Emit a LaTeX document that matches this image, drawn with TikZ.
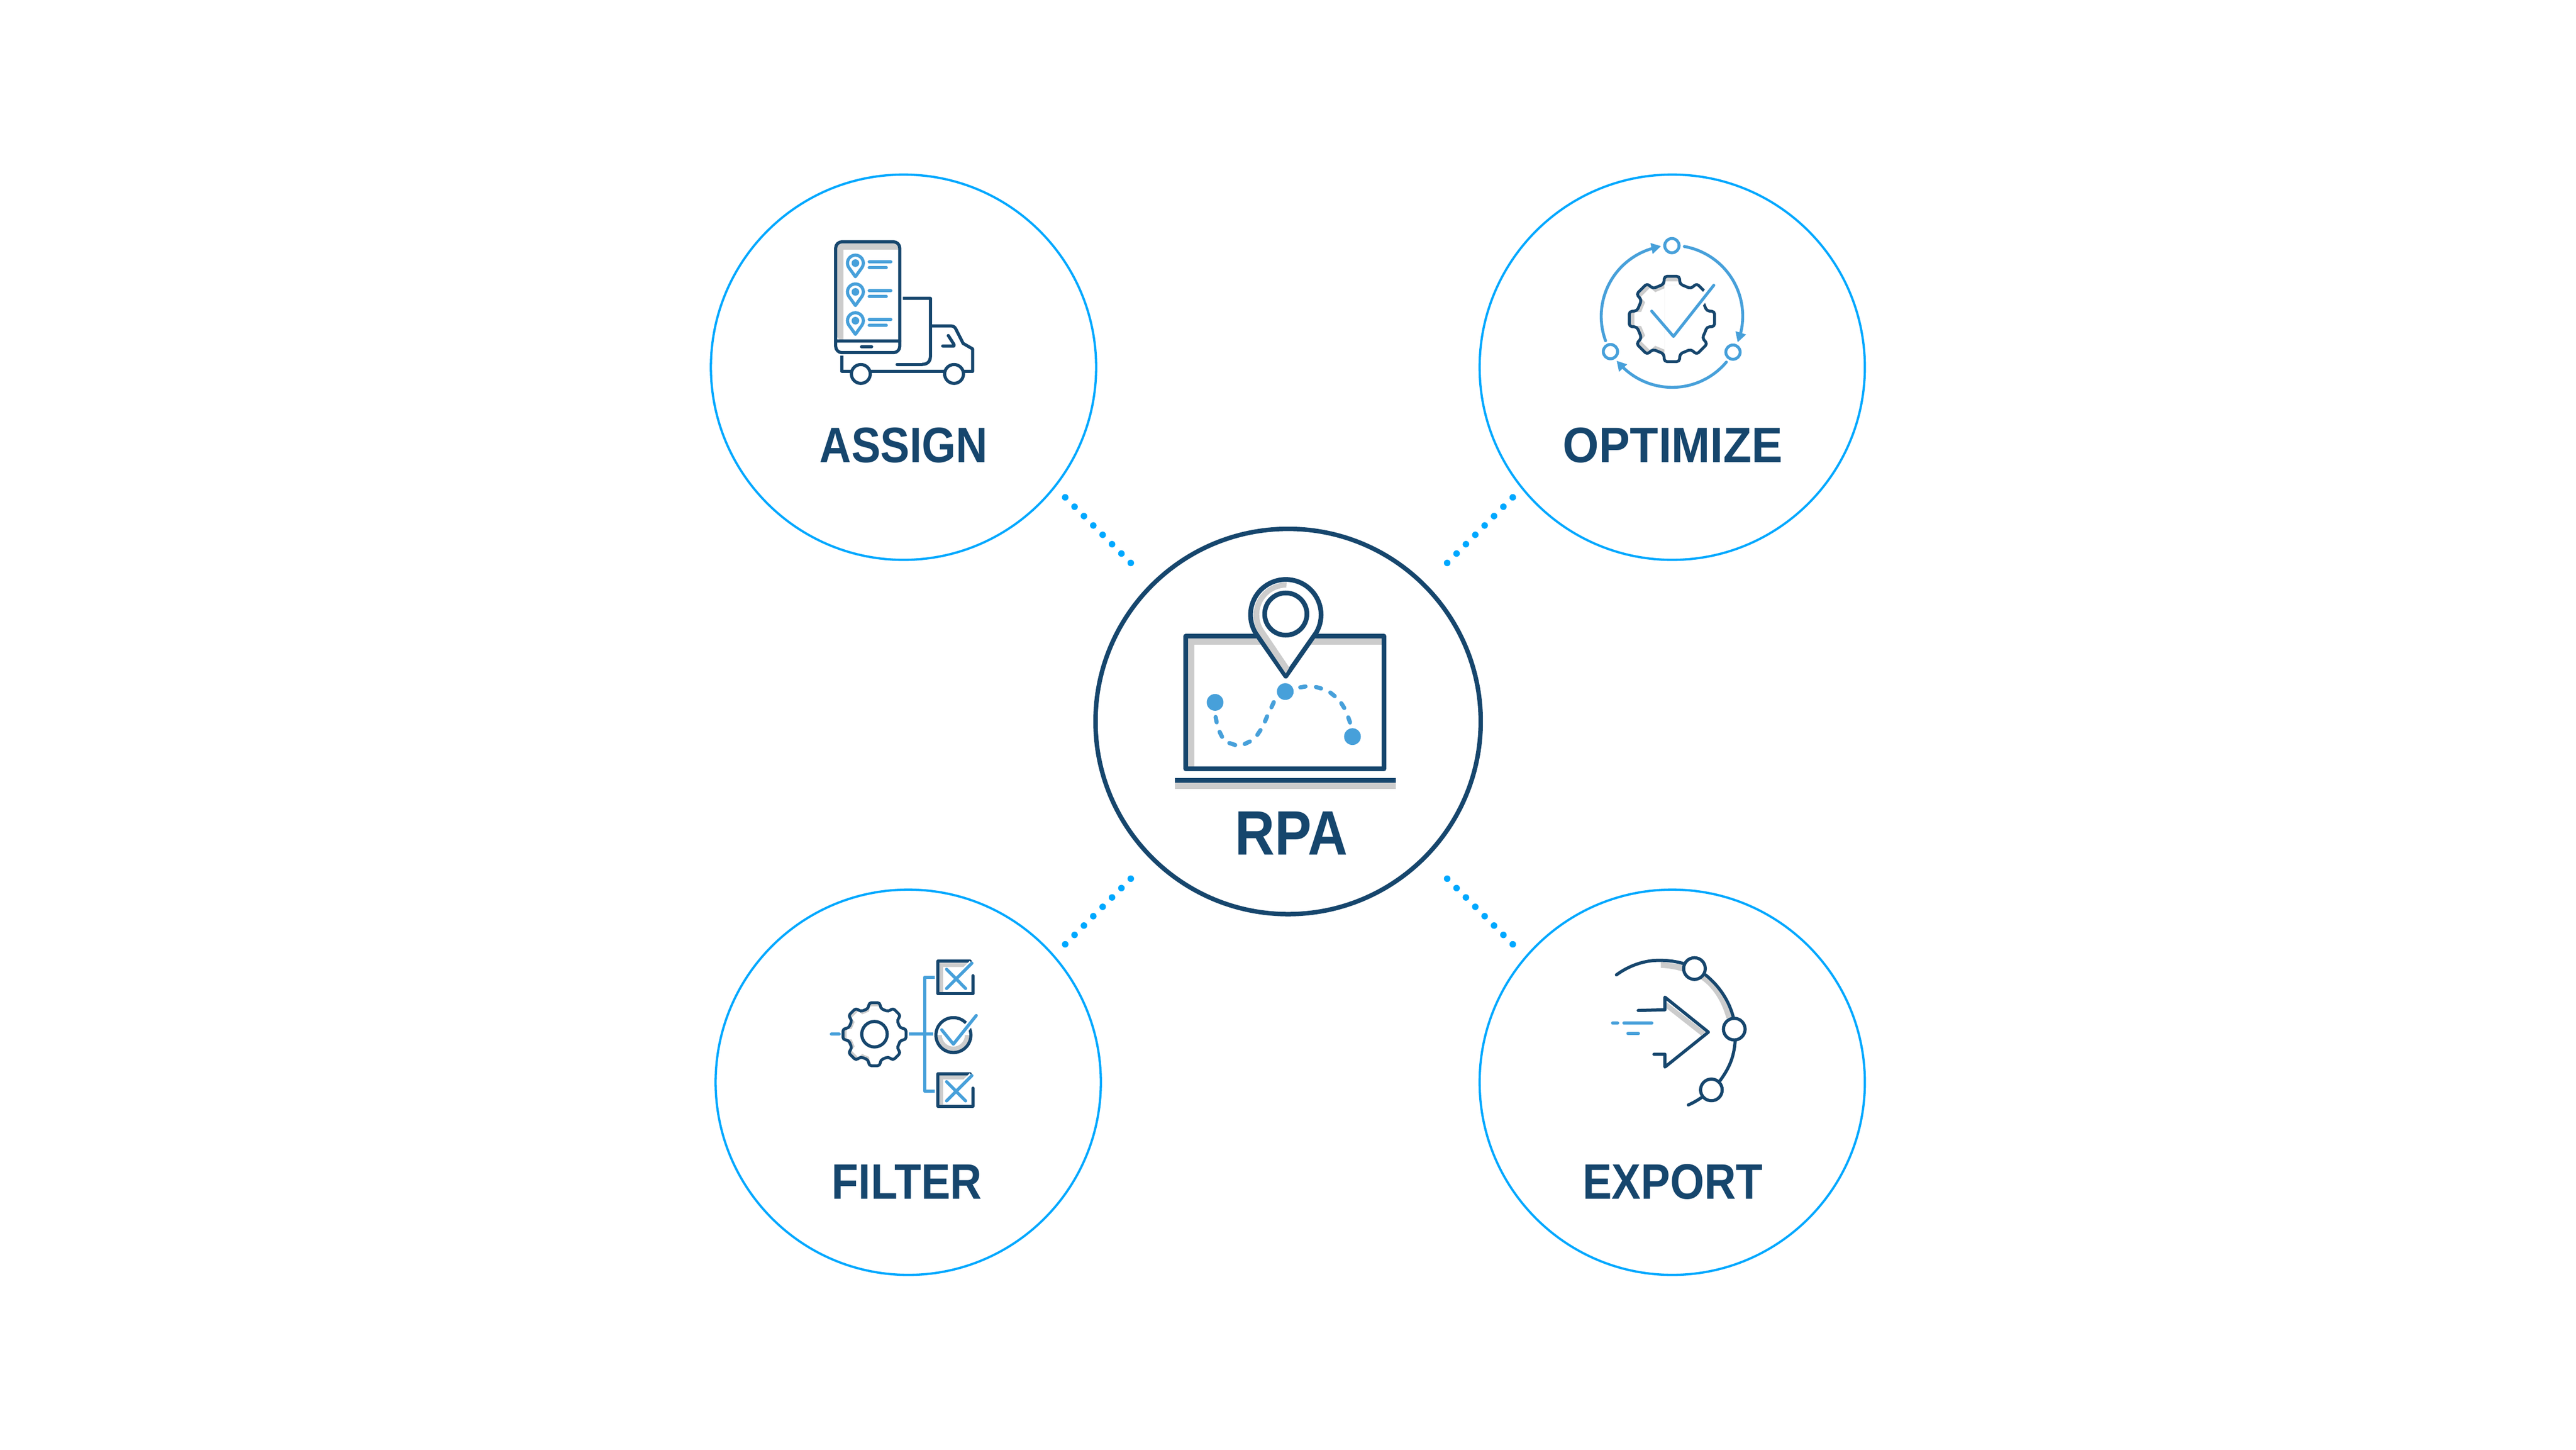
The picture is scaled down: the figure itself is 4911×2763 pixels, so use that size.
\documentclass[tikz,border=0pt]{standalone}
\usepackage{fontspec}
\setmainfont[FakeStretch=0.88]{Liberation Sans}
\definecolor{ringblue}{HTML}{00A8FF}
\definecolor{navy}{HTML}{16466D}
\definecolor{iconblue}{HTML}{47A0DA}
\definecolor{softgrey}{HTML}{CCCCCC}
\newcommand{\gearpath}{(22.5:205) \foreach \a in {45,90,...,360} {-- (\a-13:205) -- (\a-10:248) -- (\a+10:248) -- (\a+13:205)} -- cycle}
\begin{document}
\begin{tikzpicture}
    \tikzset{x=0.01cm, y=-0.01cm}
    \tikzstyle{ring}=[circle, draw=ringblue, line width=0.043cm, minimum size=7.34cm, inner sep=0pt]
    \tikzstyle{hub}=[circle, draw=navy, line width=0.085cm, minimum size=7.34cm, inner sep=0pt]
    \tikzstyle{caption}=[text=navy, font=\bfseries\fontsize{27}{27}\selectfont]
    \tikzstyle{dotline}=[draw=ringblue, line width=0.125cm, line cap=round, dash pattern=on 0cm off 0.2525cm]
    \tikzstyle{icon}=[x=0.003333cm, y=-0.003333cm]
    \tikzstyle{dark}=[draw=navy, line width=0.06cm, line cap=round, line join=round]
    \tikzstyle{light}=[draw=iconblue, line width=0.06cm, line cap=round, line join=round]

    \path[use as bounding box, fill=white] (0,0) rectangle (4911,2763);

    \draw (1722.5,700)  node[ring]      (assign)    {};
    \draw (3188,700)    node[ring]      (optimize)  {};
    \draw (1731.5,2063) node[ring]      (filter)    {};
    \draw (3188,2063)   node[ring]      (export)    {};
    \draw (2455.7,1375.3) node[hub]     (rpa)       {};

    \draw (1723,849)    node[caption]   (assignl)   {ASSIGN};
    \draw (3189,849)    node[caption, xscale=1.06] (optimizel) {OPTIMIZE};
    \draw (1729,2253)   node[caption]   (filterl)   {FILTER};
    \draw (3189,2253)   node[caption]   (exportl)   {EXPORT};
    \draw (2462,1588)   node[caption, font=\bfseries\fontsize{34}{34}\selectfont] (rpal) {RPA};

    \coordinate (d1a) at (2030.7,948);
    \coordinate (d1b) at (2158,1075.3);
    \coordinate (d2a) at (2884,948);
    \coordinate (d2b) at (2756.7,1075.3);
    \coordinate (d3a) at (2030.7,1800);
    \coordinate (d3b) at (2158,1672.7);
    \coordinate (d4a) at (2884,1800);
    \coordinate (d4b) at (2756.7,1672.7);
    \draw[dotline] (d1a) -- (d1b);
    \draw[dotline] (d2a) -- (d2b);
    \draw[dotline] (d3a) -- (d3b);
    \draw[dotline] (d4a) -- (d4b);

    \begin{scope}[shift={(2200,1060)}, icon]
        \fill[softgrey] (190,465) rectangle (1310,1210);
        \fill[white] (232,507) rectangle (1310,1210);
        \draw[dark, line width=0.09cm] (183,459) rectangle (1317,1218);
        \fill[softgrey] (121,1290) rectangle (1385,1335);
        \fill[navy] (121,1270) rectangle (1385,1298);
        \draw[dark, line width=0.09cm, fill=white] (755,688) -- (582,440) arc[start angle=149, end angle=390.7, radius=202] -- cycle;
        \fill[softgrey] (760,150) arc[start angle=270, end angle=149, radius=190] -- (755,672) -- (775,638) -- (628,420) arc[start angle=147, end angle=270, radius=155] -- cycle;
        \draw[dark, line width=0.09cm] (755,332) circle[radius=121];
        \fill[iconblue] (350,838) circle[radius=48];
        \fill[iconblue] (752,776) circle[radius=48];
        \fill[iconblue] (1137,1034) circle[radius=48];
        \foreach \xa/\ya/\xb/\yb in {353/922/359/952, 376/1007/390/1035, 432/1071/465/1082, 520/1076/549/1062, 592/1024/610/997, 636/947/648/918, 673/866/686/837, 838/752/868/747, 928/750/957/758, 1010/782/1035/802, 1073/843/1090/870, 1113/924/1123/953}
            \draw[light, line width=0.08cm] (\xa,\ya) -- (\xb,\yb);
    \end{scope}

    \begin{scope}[shift={(1500,400)}, icon]
        \fill[softgrey, rounded corners=0.1cm] (285,188) rectangle (642,745);
        \fill[white] (324,227) rectangle (642,745);
        \draw[dark, rounded corners=0.12cm] (280,183) rectangle (647,818);
        \draw[dark] (280,751) -- (647,751);
        \draw[dark] (428,784) -- (486,784);
        \foreach \y in {0,165,330} {
            \draw[light] (393,383+\y) -- (355,330+\y) arc[start angle=146.6, end angle=393.4, radius=45.5] -- cycle;
            \fill[iconblue] (393,305+\y) circle[radius=22];
            \draw[light] (472,298+\y) -- (596,298+\y);
            \draw[light] (472,331+\y) -- (570,331+\y);
        }
        \draw[dark, line cap=butt] (665,507) -- (823,507) -- (823,835) .. controls (823,870) and (805,885) .. (775,885);
        \draw[dark] (775,885) -- (632,885);
        \draw[dark, line cap=butt] (823,665) -- (940,665) .. controls (955,665) and (962,672) .. (968,682) -- (1010,765) -- (1065,797) -- (1065,925) -- (315,925) -- (315,835);
        \draw[dark, fill=white] (424,940) circle[radius=54];
        \draw[dark, fill=white] (958,940) circle[radius=54];
        \draw[dark] (925,720) -- (957,770) -- (957,780) -- (893,780);
    \end{scope}

    \begin{scope}[shift={(3000,400)}, icon]
        \tikzstyle{loop}=[light, line width=0.056cm]
        \draw[loop] (183,750) arc[start angle=159.8, end angle=253.9, radius=405];
        \draw[loop] (634,210) arc[start angle=-80, end angle=14, radius=405];
        \draw[loop] (875,872) arc[start angle=40, end angle=134, radius=405];
        \fill[iconblue] (500,208) -- (440,190) -- (453,253) -- cycle;
        \fill[iconblue] (940,758) -- (927,695) -- (988,714) -- cycle;
        \fill[iconblue] (247,865) -- (307,885) -- (260,928) -- cycle;
        \draw[loop] (563,205) circle[radius=41];
        \draw[loop] (211,812) circle[radius=41];
        \draw[loop] (913,815) circle[radius=41];
        \begin{scope}[shift={(563,625)}]
            \begin{scope}
                \clip (-260,-260) -- (47,-260) -- (47,-195) -- (-43,-195) -- (-43,260) -- (-260,260) -- cycle;
                \fill[softgrey] \gearpath;
                \fill[white, scale=0.88] \gearpath;
            \end{scope}
            \draw[dark, line width=0.055cm, rounded corners=0.05cm] \gearpath;
        \end{scope}
        \draw[white, line width=0.16cm] (803,432) -- (700,560);
        \draw[loop] (803,432) -- (572,725) -- (447,580);
    \end{scope}

    \begin{scope}[shift={(1550,1800)}, icon]
        \draw[light] (105,515) -- (150,515);
        \draw[light, line cap=butt] (550,515) -- (688,515);
        \draw[light, line cap=butt] (698,188) -- (640,188) -- (640,842) -- (698,842);
        \begin{scope}[shift={(352,515)}, scale=0.74]
            \begin{scope}
                \clip (-260,-260) -- (38,-260) -- (38,-195) -- (-30,-195) -- (-30,260) -- (-260,260) -- cycle;
                \fill[softgrey] \gearpath;
                \fill[white, scale=0.88] \gearpath;
            \end{scope}
            \draw[dark, line width=0.055cm, rounded corners=0.05cm] \gearpath;
        \end{scope}
        \draw[dark] (352,515) circle[radius=73];
        \foreach \y in {0,644} {
            \fill[softgrey] (725,106+\y) -- (890,106+\y) -- (868,130+\y) -- (745,130+\y) -- (745,275+\y) -- (725,275+\y) -- cycle;
            \draw[dark] (900,97+\y) -- (716,97+\y) -- (716,283+\y) -- (916,283+\y) -- (916,180+\y);
            \draw[white, line width=0.12cm] (910,108+\y) -- (870,148+\y);
            \draw[light] (765,143+\y) -- (874,253+\y);
            \draw[light] (765,253+\y) -- (910,108+\y);
        }
        \fill[softgrey] (704,520) arc[start angle=180, end angle=0, radius=100] -- (870,520) arc[start angle=0, end angle=180, radius=66] -- cycle;
        \draw[dark] (804,520) circle[radius=100];
        \draw[white, line width=0.13cm] (925,420) -- (860,503);
        \draw[light] (737,490) -- (804,572) -- (935,408);
    \end{scope}

    \begin{scope}[shift={(3040,1800)}, icon]
        \fill[softgrey] (380,100) -- (512,118) -- (500,155) .. controls (460,142) and (420,137) .. (380,135) -- cycle;
        \fill[softgrey] (600,195) -- (640,178) .. controls (710,235) and (770,320) .. (795,420) -- (755,425) .. controls (730,330) and (675,240) .. (600,195) -- cycle;
        \fill[softgrey] (410,330) -- (635,503) -- (610,522) -- (410,365) -- cycle;
        \draw[dark] (125,175) .. controls (200,120) and (290,90) .. (375,92) .. controls (420,92) and (470,98) .. (515,112);
        \draw[dark] (635,175) .. controls (710,235) and (770,320) .. (795,420);
        \draw[dark] (805,555) .. controls (798,650) and (770,710) .. (718,782);
        \draw[dark] (612,878) .. controls (590,893) and (565,908) .. (537,920);
        \draw[dark, fill=white] (572,139) circle[radius=62];
        \draw[dark, fill=white] (800,486) circle[radius=62];
        \draw[dark, fill=white] (669,834) circle[radius=62];
        \draw[dark] (250,379) -- (403,375) -- (403,303) -- (652,503) -- (403,703) -- (403,630) -- (340,630);
        \draw[light] (103,452) -- (132,452);
        \draw[light] (168,452) -- (328,452);
        \draw[light] (191,511) -- (251,511);
    \end{scope}
\end{tikzpicture}
\end{document}
